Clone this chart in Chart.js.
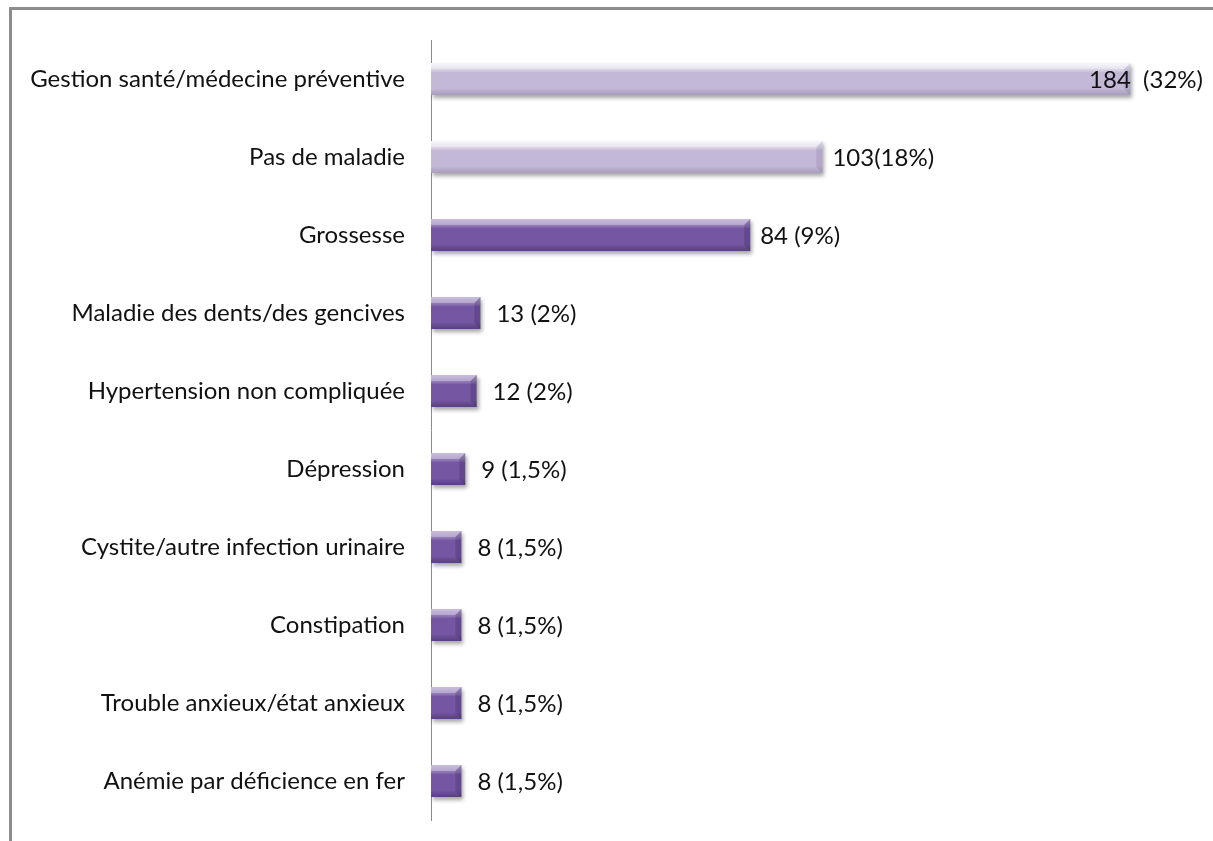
<!DOCTYPE html>
<html>
<head>
<meta charset="utf-8">
<script src="https://cdn.jsdelivr.net/npm/chart.js@4"></script>
<style>
  html,body{margin:0;padding:0;background:#fff;overflow:hidden}
  #wrap{position:relative;width:1213px;height:841px}
  #frame{position:absolute;left:9px;top:7px;width:1300px;height:900px;border:3px solid #8c8c8c;box-sizing:border-box}
  canvas{position:absolute;left:0;top:0}
</style>
</head>
<body>
<div id="wrap">
  <div id="frame"></div>
  <canvas id="c" width="1213" height="841"></canvas>
</div>
<script>
/* Motifs de consultation — barres horizontales */

const categories=['Gestion santé/médecine préventive','Pas de maladie','Grossesse','Maladie des dents/des gencives','Hypertension non compliquée','Dépression','Cystite/autre infection urinaire','Constipation','Trouble anxieux/état anxieux','Anémie par déficience en fer'];
const counts=[184,103,84,13,12,9,8,8,8,8];
const valueLabels=['184  (32%)','103(18%)','84 (9%)','13 (2%)','12 (2%)','9 (1,5%)','8 (1,5%)','8 (1,5%)','8 (1,5%)','8 (1,5%)'];

const LIGHT_COUNT=2; // first bars are drawn in lavender
const FONT='Lato, "Open Sans", sans-serif';

const barShadow={
  id:'barShadow',
  beforeDatasetsDraw(chart){
    const ctx=chart.ctx;ctx.save();
    ctx.shadowColor='rgba(0,0,0,0.35)';ctx.shadowBlur=4;ctx.shadowOffsetX=2;ctx.shadowOffsetY=3;
  },
  afterDatasetsDraw(chart){
    const ctx=chart.ctx;ctx.restore();
    // gloss + bevel on each bar
    const meta=chart.getDatasetMeta(0);
    meta.data.forEach((bar,i)=>{
      const p=bar.getProps(['x','y','base','height'],true);
      const top=p.y-p.height/2,bot=p.y+p.height/2,left=p.base,right=p.x;
      const light=i<LIGHT_COUNT;
      ctx.save();
      let g=ctx.createLinearGradient(0,top,0,bot);
      g.addColorStop(0,light?'rgba(255,255,255,0.85)':'rgba(255,255,255,0.45)');
      g.addColorStop(0.22,light?'rgba(255,255,255,0.35)':'rgba(255,255,255,0.2)');
      g.addColorStop(0.3,'rgba(255,255,255,0)');
      g.addColorStop(0.8,'rgba(0,0,0,0)');
      g.addColorStop(1,light?'rgba(60,40,90,0.18)':'rgba(30,10,60,0.3)');
      ctx.fillStyle=g;ctx.fillRect(left,top,right-left,bot-top);
      // right bevel
      const b=Math.min(6,(right-left)/3);
      ctx.fillStyle=light?'rgba(90,70,120,0.15)':'rgba(40,20,70,0.2)';
      ctx.beginPath();ctx.moveTo(right,top);ctx.lineTo(right-b,top+b);ctx.lineTo(right-b,bot-b);ctx.lineTo(right,bot);ctx.closePath();ctx.fill();
      ctx.fillStyle='rgba(255,255,255,0.3)';
      ctx.beginPath();ctx.moveTo(left,top);ctx.lineTo(right,top);ctx.lineTo(right-b,top+b);ctx.lineTo(left,top+b);ctx.closePath();ctx.fill();
      ctx.restore();
    });
  }
};

const valueText={
  id:'valueText',
  afterDraw(chart){
    const ctx=chart.ctx,meta=chart.getDatasetMeta(0);
    ctx.save();ctx.font='24px '+FONT;ctx.fillStyle='#111';ctx.textBaseline='middle';ctx.textAlign='left';
    meta.data.forEach((bar,i)=>{
      const p=bar.getProps(['x','y'],true);
      const t=valueLabels[i],w=ctx.measureText(t).width;
      let x=p.x+(i<3?10:16);
      if(x+w>chart.width-10) x=chart.width-10-w;
      ctx.fillText(t,x,p.y+1);
    });
    ctx.restore();
  }
};

new Chart(document.getElementById('c'),{
  type:'bar',
  data:{labels:categories,datasets:[{
    data:counts,
    backgroundColor:ctx=>ctx.dataIndex<LIGHT_COUNT?'#c3b8d6':'#7456a2',
    borderWidth:0,barPercentage:0.41,categoryPercentage:1
  }]},
  options:{
    indexAxis:'y',responsive:false,animation:false,
    layout:{padding:{left:0,right:22,top:40,bottom:21}},
    plugins:{legend:{display:false},tooltip:{enabled:false}},
    scales:{
      x:{display:false,min:0,max:200},
      y:{
        grid:{display:false,drawTicks:false},
        border:{display:true,color:'#8c8c8c',width:1},
        ticks:{color:'#111',font:{family:FONT,size:24},padding:26},
        afterFit(s){s.width=431;s.paddingTop=0;s.paddingBottom=0;}
      }
    }
  },
  plugins:[barShadow,valueText]
});
</script>
</body>
</html>
